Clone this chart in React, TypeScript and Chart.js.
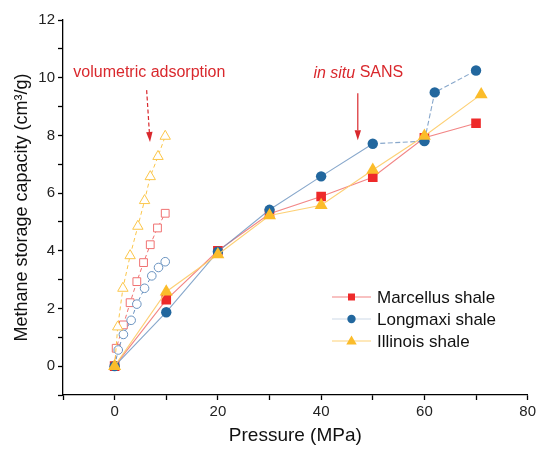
import { useEffect, useRef } from 'react';
import { Chart, registerables } from 'chart.js';

Chart.register(...registerables);

// ---------- data ----------
const seriesNames = ['Marcellus shale', 'Longmaxi shale', 'Illinois shale'];

// in situ SANS (filled markers)
const marcellusP = [0, 10, 20, 30, 40, 50, 60, 70];
const marcellusV = [0, 2.3, 4.0, 5.28, 5.88, 6.55, 7.92, 8.42];
const longmaxiP = [0, 10, 20, 30, 40, 50, 60, 62, 70];
const longmaxiV = [0, 1.87, 3.97, 5.42, 6.58, 7.71, 7.8, 9.49, 10.25];
const illinoisP = [0, 10, 20, 30, 40, 50, 60, 71];
const illinoisV = [0, 2.58, 3.87, 5.22, 5.58, 6.8, 7.98, 9.42];

// volumetric adsorption (hollow markers)
const volMarcellusP = [0, 0.3, 1.7, 3.0, 4.3, 5.6, 6.9, 8.3, 9.8];
const volMarcellusV = [0, 0.62, 1.43, 2.2, 2.93, 3.59, 4.21, 4.79, 5.3];
const volLongmaxiP = [0, 0.7, 1.7, 3.2, 4.3, 5.8, 7.2, 8.5, 9.8];
const volLongmaxiV = [0, 0.56, 1.1, 1.59, 2.15, 2.7, 3.13, 3.42, 3.62];
const volIllinoisP = [0, 0.6, 1.6, 3.0, 4.5, 5.8, 6.9, 8.4, 9.8];
const volIllinoisV = [0, 1.36, 2.7, 3.83, 4.85, 5.74, 6.57, 7.27, 7.97];

const xMin = -10;
const xMax = 80;
const yMin = -1;
const yMax = 12;

const xTitle = 'Pressure (MPa)';
const yTitle = 'Methane storage capacity (cm\u00B3/g)';

const volLabel = 'volumetric adsorption';
const volLabelPos = [-8.0, 10.16];
const volArrowFrom = [6.2, 9.57];
const volArrowTo = [6.85, 7.77];
const sansLabelItalic = 'in situ';
const sansLabelRest = ' SANS';
const sansLabelPos = [38.5, 10.16];
const sansArrowFrom = [47.1, 9.46];
const sansArrowTo = [47.1, 7.83];

// ---------- styles ----------
const FONT = '"Liberation Sans", Arial, Helvetica, sans-serif';
const RED = '#ee2a2a';
const RED_LINE = 'rgba(240,112,112,0.85)';
const RED_HOLLOW = '#f07272';
const BLUE = '#22679e';
const BLUE_LINE = 'rgba(105,145,190,0.8)';
const BLUE_HOLLOW = '#6a93c0';
const YEL = '#fbbc2a';
const YEL_LINE = 'rgba(253,205,110,0.95)';
const YEL_HOLLOW = '#fbc64a';
const ANNOT = '#d9282d';

const toXY = (xs: number[], ys: number[]) => xs.map((x, i) => ({ x, y: ys[i] }));

function drawMarker(ctx: CanvasRenderingContext2D, style: string, x: number, y: number, r: number, color: string) {
  ctx.fillStyle = color;
  ctx.beginPath();
  if (style === 'rect') {
    ctx.rect(x - r, y - r, 2 * r, 2 * r);
  } else if (style === 'circle') {
    ctx.arc(x, y, r, 0, Math.PI * 2);
  } else {
    ctx.moveTo(x, y - r);
    ctx.lineTo(x + r * 0.95, y + r * 0.65);
    ctx.lineTo(x - r * 0.95, y + r * 0.65);
    ctx.closePath();
  }
  ctx.fill();
}

function drawArrow(ctx: CanvasRenderingContext2D, x1: number, y1: number, x2: number, y2: number, dashed: boolean) {
  const ang = Math.atan2(y2 - y1, x2 - x1);
  const headLen = 10;
  const headW = 3.2;
  const bx = x2 - headLen * Math.cos(ang);
  const by = y2 - headLen * Math.sin(ang);
  ctx.strokeStyle = ANNOT;
  ctx.fillStyle = ANNOT;
  ctx.lineWidth = 1.2;
  ctx.setLineDash(dashed ? [4, 2.5] : []);
  ctx.beginPath();
  ctx.moveTo(x1, y1);
  ctx.lineTo(bx, by);
  ctx.stroke();
  ctx.setLineDash([]);
  ctx.beginPath();
  ctx.moveTo(x2, y2);
  ctx.lineTo(bx + headW * Math.sin(ang), by - headW * Math.cos(ang));
  ctx.lineTo(bx - headW * Math.sin(ang), by + headW * Math.cos(ang));
  ctx.closePath();
  ctx.fill();
}

const overlayPlugin = {
  id: 'overlay',
  afterDraw(chart: any) {
    const { ctx } = chart;
    const xs = chart.scales.x;
    const ys = chart.scales.y;
    const px = (v: number) => xs.getPixelForValue(v);
    const py = (v: number) => ys.getPixelForValue(v);
    ctx.save();
    // annotations
    ctx.textBaseline = 'middle';
    ctx.textAlign = 'left';
    ctx.fillStyle = ANNOT;
    ctx.font = `16px ${FONT}`;
    ctx.fillText(volLabel, px(volLabelPos[0]), py(volLabelPos[1]));
    ctx.font = `italic 16px ${FONT}`;
    const sx = px(sansLabelPos[0]);
    ctx.fillText(sansLabelItalic, sx, py(sansLabelPos[1]));
    const w = ctx.measureText(sansLabelItalic).width;
    ctx.font = `16px ${FONT}`;
    ctx.fillText(sansLabelRest, sx + w, py(sansLabelPos[1]));
    drawArrow(ctx, px(volArrowFrom[0]), py(volArrowFrom[1]), px(volArrowTo[0]), py(volArrowTo[1]), true);
    drawArrow(ctx, px(sansArrowFrom[0]), py(sansArrowFrom[1]), px(sansArrowTo[0]), py(sansArrowTo[1]), false);

    // legend
    const entries = [
      { name: seriesNames[0], line: RED_LINE, color: RED, style: 'rect', r: 3.5 },
      { name: seriesNames[1], line: 'rgba(200,212,228,0.9)', color: BLUE, style: 'circle', r: 4.2 },
      { name: seriesNames[2], line: YEL_LINE, color: YEL, style: 'triangle', r: 5.5 },
    ];
    const lx0 = 332;
    const lx1 = 371;
    const rows = [297, 319, 341];
    ctx.font = `17px ${FONT}`;
    entries.forEach((e, i) => {
      const yy = rows[i];
      ctx.strokeStyle = e.line;
      ctx.lineWidth = 1.2;
      ctx.beginPath();
      ctx.moveTo(lx0, yy);
      ctx.lineTo(lx1, yy);
      ctx.stroke();
      drawMarker(ctx, e.style, (lx0 + lx1) / 2, yy, e.r, e.color);
      ctx.fillStyle = '#111';
      ctx.textBaseline = 'middle';
      ctx.fillText(e.name, 377, yy + 1);
    });
    ctx.restore();
  },
};

export default function App() {
  const ref = useRef<HTMLCanvasElement | null>(null);

  useEffect(() => {
    if (!ref.current) return;
    const solidLine = { showLine: true, borderWidth: 1.1, pointBorderWidth: 0 };
    const hollow = {
      showLine: true,
      borderWidth: 1,
      borderDash: [4, 3],
      pointBorderWidth: 1,
      pointBackgroundColor: '#ffffff',
    };
    const chart = new Chart(ref.current, {
      type: 'scatter',
      data: {
        datasets: [
          {
            ...hollow,
            label: 'vol ' + seriesNames[0],
            data: toXY(volMarcellusP, volMarcellusV),
            borderColor: RED_HOLLOW,
            pointBorderColor: RED_HOLLOW,
            pointStyle: 'rect',
            pointRadius: 5.5,
            order: 5,
          },
          {
            ...hollow,
            label: 'vol ' + seriesNames[1],
            data: toXY(volLongmaxiP, volLongmaxiV),
            borderColor: BLUE_HOLLOW,
            pointBorderColor: BLUE_HOLLOW,
            pointStyle: 'circle',
            pointRadius: 4.3,
            order: 4,
          },
          {
            ...hollow,
            label: 'vol ' + seriesNames[2],
            data: toXY(volIllinoisP, volIllinoisV),
            borderColor: YEL_HOLLOW,
            pointBorderColor: YEL_HOLLOW,
            pointStyle: 'triangle',
            pointRadius: 6,
            order: 3,
          },
          {
            ...solidLine,
            label: seriesNames[0],
            data: toXY(marcellusP, marcellusV),
            borderColor: RED_LINE,
            pointBackgroundColor: RED,
            pointStyle: 'rect',
            pointRadius: 6.8,
            order: 2,
          },
          {
            ...solidLine,
            label: seriesNames[1],
            data: toXY(longmaxiP, longmaxiV),
            borderColor: BLUE_LINE,
            pointBackgroundColor: BLUE,
            pointStyle: 'circle',
            pointRadius: 5.2,
            order: 1,
            segment: {
              borderDash: (c: any) => (c.p0DataIndex >= 5 ? [5, 2.5] : undefined),
            },
          },
          {
            ...solidLine,
            label: seriesNames[2],
            data: toXY(illinoisP, illinoisV),
            borderColor: YEL_LINE,
            pointBackgroundColor: YEL,
            pointStyle: 'triangle',
            pointRadius: 7.5,
            order: 0,
          },
        ],
      } as any,
      options: {
        responsive: false,
        animation: false,
        events: [],
        layout: { padding: { top: 20, right: 11, left: 0, bottom: 0 } },
        plugins: {
          legend: { display: false },
          tooltip: { enabled: false },
        },
        scales: {
          x: {
            type: 'linear',
            min: xMin,
            max: xMax,
            afterFit: (s: any) => {
              s.height = 57;
            },
            border: { display: true, color: '#000', width: 1.3 },
            grid: { drawOnChartArea: false, drawTicks: true, tickLength: 5, tickColor: '#000', tickWidth: 1.3 },
            ticks: {
              stepSize: 10,
              autoSkip: false,
              maxRotation: 0,
              padding: 3,
              color: '#222',
              font: { family: FONT, size: 15 },
              callback: (v: any) => (v >= 0 && v % 20 === 0 ? String(v) : ''),
            },
            title: {
              display: true,
              text: xTitle,
              color: '#111',
              font: { family: FONT, size: 19 },
              padding: { top: 4, bottom: 5 },
            },
          },
          y: {
            type: 'linear',
            min: yMin,
            max: yMax,
            afterFit: (s: any) => {
              s.width = 63;
            },
            border: { display: true, color: '#000', width: 1.3 },
            grid: { drawOnChartArea: false, drawTicks: true, tickLength: 5, tickColor: '#000', tickWidth: 1.3 },
            ticks: {
              stepSize: 1,
              autoSkip: false,
              padding: 3,
              color: '#222',
              font: { family: FONT, size: 15 },
              callback: (v: any) => (v >= 0 && v % 2 === 0 ? String(v) : ''),
            },
            title: {
              display: true,
              text: yTitle,
              color: '#111',
              font: { family: FONT, size: 18 },
              padding: { top: 11, bottom: 4 },
            },
          },
        },
      } as any,
      plugins: [overlayPlugin as any],
    });
    return () => chart.destroy();
  }, []);

  return (
    <div style={{ position: 'absolute', left: 0, top: 0, width: 539, height: 452, background: '#fff' }}>
      <canvas ref={ref} width={539} height={452} style={{ display: 'block', width: 539, height: 452 }} />
    </div>
  );
}
